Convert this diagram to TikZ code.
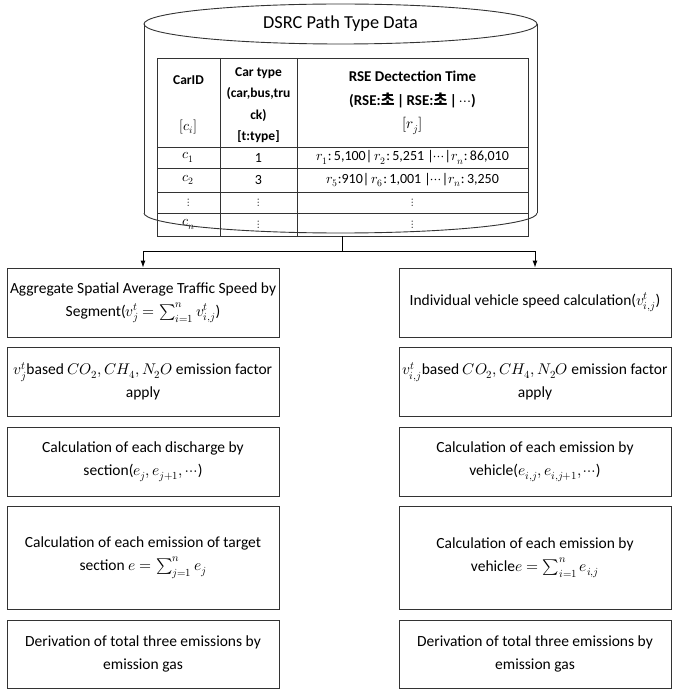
\documentclass[tikz,border=0pt]{standalone}
\usepackage{fontspec}
\usepackage{unicode-math}
\setmainfont{Carlito}
\setmathfont{Latin Modern Math}
\newfontfamily\kr{Noto Sans CJK KR}
\usetikzlibrary{arrows.meta}
\begin{document}
\begin{tikzpicture}[x=1pt,y=-1pt,
  box/.style={draw=black!80, line width=0.9pt, minimum width=272pt, align=center,
    font=\fontsize{15.5}{23}\selectfont, inner sep=0pt, fill=white},
  conn/.style={line width=0.9pt, draw=black},
  arr/.style={conn,-{Latex[length=7pt,width=5pt]}},
  hd/.style={font=\bfseries\fontsize{13.5}{21.5}\selectfont, align=center, inner sep=0pt},
  cell/.style={font=\fontsize{14}{16}\selectfont, inner sep=0pt},
  dots/.style={font=\fontsize{11}{12}\selectfont, inner sep=0pt},
  grid/.style={line width=0.9pt, draw=black!80}]
\useasboundingbox (0,0) rectangle (680,695);

% cylinder
\draw[grid] (340.5,24) ellipse [x radius=196.5pt, y radius=20pt];
\draw[grid] (144,24) -- (144,213);
\draw[grid] (537,24) -- (537,213);
\node[font=\fontsize{18.3}{20}\selectfont, inner sep=0pt] (title) at (340.5,24) {DSRC Path Type Data};

% table
\node[grid, draw, fill=white, minimum width=371pt, minimum height=178pt, inner sep=0pt] (tbl) at (342.5,147) {};
\draw[grid] (220,58) -- (220,236);
\draw[grid] (297,58) -- (297,236);
\draw[grid] (157,147) -- (528,147);
\draw[grid] (157,168) -- (528,168);
\draw[grid] (157,192) -- (528,192);
\draw[grid] (157,213) -- (528,213);

\node[hd] (h1a) at (188.5,80) {CarID};
\node[hd, font=\fontsize{14}{16}\selectfont] (h1b) at (188.5,127) {$[c_i]$};
\node[hd] (h2) at (258.5,105) {Car type\\(car,bus,tru\\ck)\\{}[t:type]};
\node[hd, font=\bfseries\fontsize{15}{23.5}\selectfont] (h3) at (412.5,103) {RSE Dectection Time\\(RSE:{\kr\bfseries 초}\,|\,RSE:{\kr\bfseries 초}\,|\,$\cdots$)\\{\mdseries$[r_j]$}};

\node[cell] (c1) at (188.5,157.5) {$c_1$};
\node[cell] (t1) at (258.5,157.5) {1};
\node[cell] (r1) at (412.5,157.5) {$r_1$:\,5,100|\,$r_2$:\,5,251 |$\cdots$|$r_n$:\,86,010};
\node[cell] (c2) at (188.5,180) {$c_2$};
\node[cell] (t2) at (258.5,180) {3};
\node[cell] (r2) at (412.5,180) {$r_5$:910|\,$r_6$:\,1,001 |$\cdots$|$r_n$:\,3,250};
\node[dots] (c3) at (188.5,202.5) {$\vdots$};
\node[dots] (t3) at (258.5,202.5) {$\vdots$};
\node[dots] (r3) at (412.5,202.5) {$\vdots$};
\node[cell] (c4) at (188.5,224.5) {$c_n$};
\node[dots] (t4) at (258.5,224.5) {$\vdots$};
\node[dots] (r4) at (412.5,224.5) {$\vdots$};

% bottom arc of cylinder over table
\draw[grid] (144,213) arc[start angle=180, end angle=360, x radius=196.5pt, y radius=20pt];

% boxes
\node[box, minimum height=69pt] (L1) at (143,302.5) {Aggregate Spatial Average Traffic Speed by\\Segment($v_j^t=\sum_{i=1}^{n} v_{i,j}^t$)};
\node[box, minimum height=69pt] (L2) at (143,381.5) {$v_j^t$based $CO_2,CH_4,N_2O$ emission factor\\apply};
\node[box, minimum height=69pt] (L3) at (143,461.5) {Calculation of each discharge by\\section($e_j,e_{j+1},\cdots$)};
\node[box, minimum height=103pt] (L4) at (143,557.5) {Calculation of each emission of target\\section $e=\sum_{j=1}^{n} e_j$};
\node[box, minimum height=68pt] (L5) at (143,654) {Derivation of total three emissions by\\emission gas};

\node[box, minimum height=69pt] (R1) at (535,302.5) {Individual vehicle speed calculation($v_{i,j}^t$)};
\node[box, minimum height=69pt] (R2) at (535,381.5) {$v_{i,j}^t$based $CO_2,CH_4,N_2O$ emission factor\\apply};
\node[box, minimum height=69pt] (R3) at (535,461.5) {Calculation of each emission by\\vehicle($e_{i,j},e_{i,j+1},\cdots$)};
\node[box, minimum height=103pt] (R4) at (535,557.5) {Calculation of each emission by\\vehicle$e=\sum_{i=1}^{n} e_{i,j}$};
\node[box, minimum height=68pt] (R5) at (535,654) {Derivation of total three emissions by\\emission gas};

% connectors
\coordinate (jl) at (143,251);
\coordinate (jr) at (535,251);
\draw[conn] (tbl.south) -- (tbl.south |- jl);
\draw[conn] (jl) -- (jr);
\draw[arr] (jl) -- (L1.north);
\draw[arr] (jr) -- (R1.north);
\end{tikzpicture}
\end{document}
